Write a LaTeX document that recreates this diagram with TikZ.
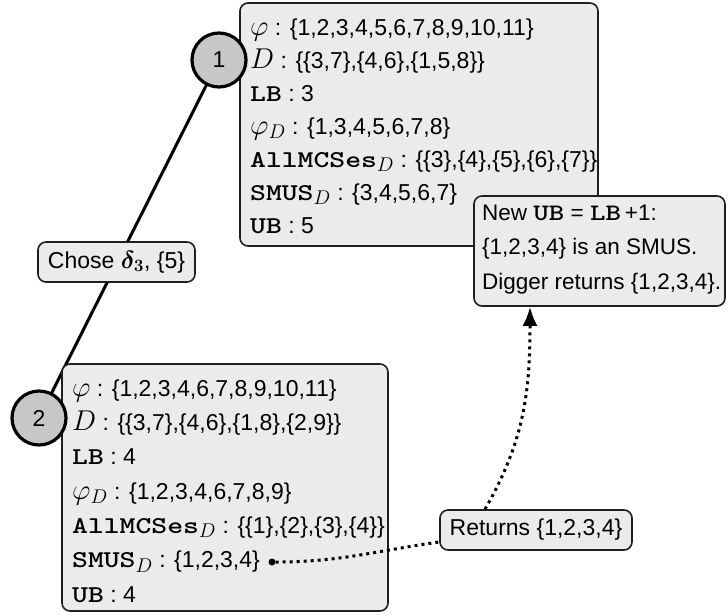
\documentclass[tikz,border=0pt]{standalone}
\usepackage{fontspec}
\setmainfont{Liberation Sans}
\newfontfamily\kwfont{lmmonolt10-bold.otf}[Scale=1.05, FakeStretch=1.25]
\usepackage{graphicx}
\usepackage{bm}
\usetikzlibrary{arrows.meta}
\newcommand{\kw}[1]{{\kwfont #1}}
\newcommand{\mth}[1]{\scalebox{1.15}{$#1$}}
\newcommand{\toprule}{\rule{0pt}{20pt}}
\begin{document}
\begin{tikzpicture}[x=1pt,y=-1pt,
  boxframe/.style={draw=black!88, line width=1.6pt, rounded corners=8pt, fill=black!8, inner sep=0pt},
  boxtext/.style={anchor=north west, inner sep=0pt, align=left},
  tag/.style={boxframe, font=\fontsize{23}{28}\selectfont, minimum height=40pt},
  stepcirc/.style={circle, draw=black, line width=3.2pt, fill=black!22,
    minimum size=54pt, inner sep=0pt, font=\fontsize{23}{28}\selectfont},
  dotline/.style={line width=3pt, dash pattern=on 3pt off 4pt},
]
\useasboundingbox (0,0) rectangle (728,614);

% edge between the two steps
\coordinate (c1p) at (219,60);
\coordinate (c2p) at (39,418);
\draw[line width=3pt] (c1p) -- (c2p);

\node[tag, minimum width=157pt] (chose) at (116.5,262) {Chose $\bm{\delta_3}$, \{5\}};

% box of step 1
\node[boxframe, minimum width=358pt, minimum height=243pt] (b1) at (419,124.5) {};
\node[boxtext, font=\fontsize{23}{33}\selectfont] (t1) at (250,15) {%
\toprule\mth{\varphi} : \{1,2,3,4,5,6,7,8,9,10,11\}\\
\mth{D} : \{\{3,7\},\{4,6\},\{1,5,8\}\}\\
\kw{LB} : 3\\
\mth{\varphi_D} : \{1,3,4,5,6,7,8\}\\
\kw{AllMCSes}\mth{_D} : \{\{3\},\{4\},\{5\},\{6\},\{7\}\}\\
\kw{SMUS}\mth{_D} : \{3,4,5,6,7\}\\
\kw{UB} : 5};

% box of step 2
\node[boxframe, minimum width=326pt, minimum height=247pt] (b2) at (225,487.5) {};
\node[boxtext, font=\fontsize{23}{34.3}\selectfont] (t2) at (72,376) {%
\toprule\mth{\varphi} : \{1,2,3,4,6,7,8,9,10,11\}\\
\mth{D} : \{\{3,7\},\{4,6\},\{1,8\},\{2,9\}\}\\
\kw{LB} : 4\\
\mth{\varphi_D} : \{1,2,3,4,6,7,8,9\}\\
\kw{AllMCSes}\mth{_D} : \{\{1\},\{2\},\{3\},\{4\}\}\\
\kw{SMUS}\mth{_D} : \{1,2,3,4\}\\
\kw{UB} : 4};

% circles
\node[stepcirc] (c1) at (c1p) {1};
\node[stepcirc] (c2) at (c2p) {2};

% conclusion box
\node[boxframe, minimum width=251pt, minimum height=110pt] (nb) at (599.5,251) {};
\node[boxtext, font=\fontsize{22.5}{34.5}\selectfont] (t3) at (482,200) {%
\toprule New \kw{UB} = \kw{LB}\,+1:\\
\{1,2,3,4\} is an SMUS.\\
Digger returns \{1,2,3,4\}.};

% returns tag
\node[tag, minimum width=192pt] (ret) at (536,530) {Returns \{1,2,3,4\}};

% dot and dotted connectors
\node[circle, fill=black, inner sep=0pt, minimum size=7pt] (dot) at (272,562) {};
\draw[dotline] (dot) to[out=0, in=188] ([yshift=-12pt]ret.west);
\draw[dotline, -{Latex[length=19pt,width=15pt]}] ([xshift=-51pt]ret.north) to[out=60, in=-90] ([xshift=-69.5pt]nb.south);
\end{tikzpicture}
\end{document}
